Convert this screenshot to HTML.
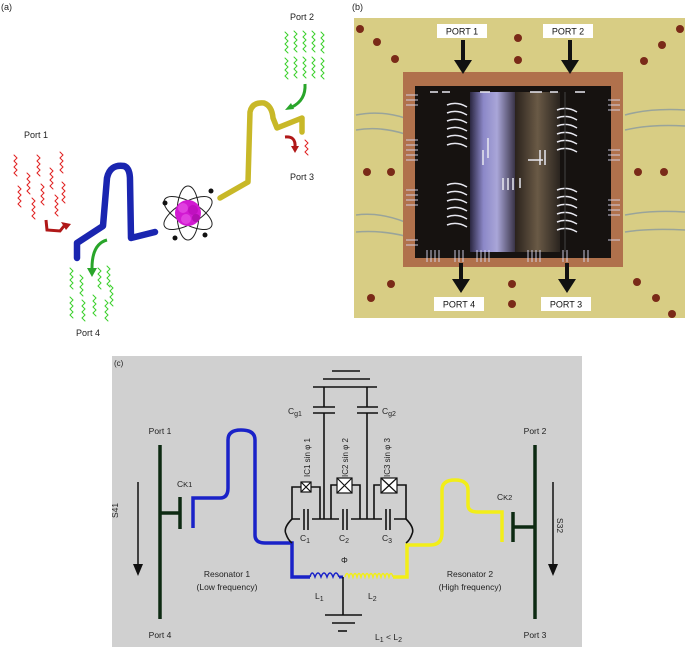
<!DOCTYPE html>
<html><head><meta charset="utf-8"><style>
html,body{margin:0;padding:0;background:#fff;}
svg{display:block;font-family:"Liberation Sans",Arial,sans-serif;}
</style></head><body>
<svg width="685" height="647" viewBox="0 0 685 647" xmlns="http://www.w3.org/2000/svg">
<defs>
<linearGradient id="purp" x1="0" x2="1" y1="0" y2="0">
<stop offset="0" stop-color="#2a2640"/><stop offset="0.3" stop-color="#8c88c8"/><stop offset="0.6" stop-color="#a9a6d8"/><stop offset="1" stop-color="#3a3448"/></linearGradient>
<linearGradient id="brn" x1="0" x2="1" y1="0" y2="0">
<stop offset="0" stop-color="#2a221c"/><stop offset="0.5" stop-color="#6a5a46"/><stop offset="1" stop-color="#2a241f"/></linearGradient>
</defs>
<rect width="685" height="647" fill="#fff"/>

<!-- ===== Panel (a) ===== -->
<text x="1" y="10" font-size="9" fill="#222">(a)</text>
<text x="290" y="20" font-size="9" fill="#222">Port 2</text>
<text x="24" y="138" font-size="9" fill="#222">Port 1</text>
<text x="290" y="180" font-size="9" fill="#222">Port 3</text>
<text x="76" y="336" font-size="9" fill="#222">Port 4</text>
<g fill="none" stroke-width="1" stroke-linecap="round">
<g stroke="#3ad02a">
<path d="M285,32 l3,3 -3,3 3,3 -3,3 3,3 -3,3 3,3"/><path d="M294,31 l3,3 -3,3 3,3 -3,3 3,3 -3,3 3,3"/><path d="M303,31 l3,3 -3,3 3,3 -3,3 3,3 -3,3 3,3"/><path d="M312,31 l3,3 -3,3 3,3 -3,3 3,3 -3,3 3,3"/><path d="M321,32 l3,3 -3,3 3,3 -3,3 3,3 -3,3 3,3"/>
<path d="M285,58 l3,3 -3,3 3,3 -3,3 3,3 -3,3 3,3"/><path d="M294,57 l3,3 -3,3 3,3 -3,3 3,3 -3,3 3,3"/><path d="M303,57 l3,3 -3,3 3,3 -3,3 3,3 -3,3 3,3"/><path d="M312,57 l3,3 -3,3 3,3 -3,3 3,3 -3,3 3,3"/><path d="M321,58 l3,3 -3,3 3,3 -3,3 3,3 -3,3 3,3"/>
<path d="M70,268 l3,3 -3,3 3,3 -3,3 3,3 -3,3 3,3"/><path d="M80,275 l3,3 -3,3 3,3 -3,3 3,3 -3,3 3,3"/><path d="M98,268 l3,3 -3,3 3,3 -3,3 3,3 -3,3 3,3"/><path d="M107,266 l3,3 -3,3 3,3 -3,3 3,3 -3,3 3,3"/>
<path d="M70,297 l3,3 -3,3 3,3 -3,3 3,3 -3,3 3,3"/><path d="M82,300 l3,3 -3,3 3,3 -3,3 3,3 -3,3 3,3"/><path d="M93,295 l3,3 -3,3 3,3 -3,3 3,3 -3,3 3,3"/><path d="M105,300 l3,3 -3,3 3,3 -3,3 3,3 -3,3 3,3"/><path d="M110,285 l3,3 -3,3 3,3 -3,3 3,3 -3,3 3,3"/>
</g>
<g stroke="#e02020">
<path d="M14,155 l3,3 -3,3 3,3 -3,3 3,3 -3,3 3,3"/><path d="M37,155 l3,3 -3,3 3,3 -3,3 3,3 -3,3 3,3"/><path d="M60,152 l3,3 -3,3 3,3 -3,3 3,3 -3,3 3,3"/>
<path d="M27,173 l3,3 -3,3 3,3 -3,3 3,3 -3,3 3,3"/><path d="M50,168 l3,3 -3,3 3,3 -3,3 3,3 -3,3 3,3"/>
<path d="M18,186 l3,3 -3,3 3,3 -3,3 3,3 -3,3 3,3"/><path d="M41,184 l3,3 -3,3 3,3 -3,3 3,3 -3,3 3,3"/><path d="M62,182 l3,3 -3,3 3,3 -3,3 3,3 -3,3 3,3"/>
<path d="M32,198 l3,3 -3,3 3,3 -3,3 3,3 -3,3 3,3"/><path d="M55,195 l3,3 -3,3 3,3 -3,3 3,3 -3,3 3,3"/>
<path d="M305,140 l3,3 -3,3 3,3 -3,3 3,3"/>
</g>
</g>
<path d="M77,258 L77,243 L103,226 L107,178 Q110,164 124,166 Q130,168 130,180 L131,238 L155,232" fill="none" stroke="#1a25b0" stroke-width="6.5" stroke-linejoin="round" stroke-linecap="round"/>
<path d="M220,198 L248,182 L250,112 Q252,102 264,103 Q272,106 273,118 L277,128 L302,118 L302,132" fill="none" stroke="#c8b828" stroke-width="5.5" stroke-linejoin="round" stroke-linecap="round"/>
<path d="M305,84 Q306,100 292,107" fill="none" stroke="#29a52a" stroke-width="3"/><path d="M285,110 l6,-7 3,6z" fill="#29a52a"/>
<path d="M107,240 Q92,244 92,268" fill="none" stroke="#29a52a" stroke-width="3"/><path d="M87,268 l10,0 -5,9z" fill="#29a52a"/>
<path d="M46,220 L47,230 L60,231 L64,226" fill="none" stroke="#b01818" stroke-width="3"/><path d="M61,222 l10,2 -5,6z" fill="#b01818"/>
<path d="M285,137 Q296,136 295,147" fill="none" stroke="#b01818" stroke-width="3"/><path d="M291,146 l8,0 -4,7z" fill="#b01818"/>
<g fill="none" stroke="#222" stroke-width="1">
<ellipse cx="188" cy="213" rx="27" ry="11" transform="rotate(-30 188 213)"/>
<ellipse cx="188" cy="213" rx="27" ry="11" transform="rotate(30 188 213)"/>
<ellipse cx="188" cy="213" rx="11" ry="27"/>
</g>
<circle cx="188" cy="213" r="13" fill="#d21ad2"/>
<circle cx="183" cy="208" r="5" fill="#e040e0"/><circle cx="193" cy="210" r="5" fill="#c010c0"/><circle cx="186" cy="219" r="5" fill="#e040e0"/><circle cx="196" cy="218" r="4" fill="#b010b0"/>
<circle cx="211" cy="191" r="2.5" fill="#111"/><circle cx="165" cy="203" r="2.5" fill="#111"/><circle cx="175" cy="238" r="2.5" fill="#111"/><circle cx="205" cy="235" r="2.5" fill="#111"/>

<!-- ===== Panel (b) ===== -->
<text x="352" y="10" font-size="9" fill="#222">(b)</text>
<rect x="354" y="18" width="331" height="300" fill="#d8cd84"/>
<g stroke="#8a9aa0" stroke-width="1.5" fill="none" opacity="0.8">
<path d="M356,115 Q380,110 405,118"/><path d="M356,130 Q380,126 405,134"/><path d="M356,215 Q380,212 405,222"/><path d="M356,232 Q380,230 405,236"/>
<path d="M625,115 Q650,108 685,110"/><path d="M625,130 Q650,124 685,126"/><path d="M625,215 Q650,210 685,212"/><path d="M625,232 Q650,228 685,230"/>
</g>
<rect x="403" y="72" width="220" height="195" fill="#b0714c"/>
<rect x="415" y="86" width="196" height="172" fill="#161210"/>
<rect x="470" y="92" width="45" height="160" fill="url(#purp)"/>
<rect x="515" y="92" width="45" height="160" fill="url(#brn)"/>
<g stroke="#d8d8f0" stroke-width="1" fill="none" opacity="0.9">
<path d="M406,95 h12 M406,100 h12 M406,105 h12 M406,140 h12 M406,145 h12 M406,150 h12 M406,155 h12 M406,160 h12 M406,190 h12 M406,195 h12 M406,200 h12 M406,205 h12 M406,240 h12 M406,245 h12"/>
<path d="M608,100 h12 M608,105 h12 M608,110 h12 M608,150 h12 M608,155 h12 M608,160 h12 M608,200 h12 M608,205 h12 M608,210 h12 M608,215 h12 M608,240 h12"/>
<path d="M427,250 v12 M431,250 v12 M435,250 v12 M439,250 v12 M455,250 v12 M459,250 v12 M463,250 v12 M477,250 v12 M481,250 v12 M485,250 v12 M489,250 v12 M528,250 v12 M532,250 v12 M536,250 v12 M540,250 v12 M563,250 v12 M567,250 v12 M584,250 v12 M588,250 v12"/>
</g>
<g stroke="#e8e8f0" stroke-width="1.5" fill="none">
<path d="M447,105 q10,-4 20,2 M447,113 q10,-4 20,2 M447,121 q10,-4 20,2 M447,129 q10,-4 20,2 M447,137 q10,-4 20,2 M447,145 q10,-4 20,2"/>
<path d="M447,185 q10,-4 20,2 M447,193 q10,-4 20,2 M447,201 q10,-4 20,2 M447,209 q10,-4 20,2 M447,217 q10,-4 20,2 M447,225 q10,-4 20,2"/>
<path d="M557,110 q10,-4 20,2 M557,118 q10,-4 20,2 M557,126 q10,-4 20,2 M557,134 q10,-4 20,2 M557,142 q10,-4 20,2 M557,150 q10,-4 20,2"/>
<path d="M557,190 q10,-4 20,2 M557,198 q10,-4 20,2 M557,206 q10,-4 20,2 M557,214 q10,-4 20,2 M557,222 q10,-4 20,2 M557,230 q10,-4 20,2"/>
<path d="M503,178 v12 M508,178 v12 M513,178 v12 M520,178 v10 M540,150 v15 M545,150 v15 M488,138 v20 M483,150 v15 M528,160 h15"/>
<path d="M430,92 h8 M442,92 h8 M480,92 h10 M530,92 h12 M550,92 h8 M575,92 h10"/>
</g>
<line x1="565" y1="92" x2="565" y2="252" stroke="#444" stroke-width="1"/>
<g fill="#7a2a18">
<circle cx="360" cy="29" r="4"/><circle cx="377" cy="42" r="4"/><circle cx="395" cy="59" r="4"/><circle cx="518" cy="38" r="4"/><circle cx="518" cy="60" r="4"/><circle cx="662" cy="45" r="4"/><circle cx="644" cy="61" r="4"/><circle cx="680" cy="29" r="4"/><circle cx="367" cy="172" r="4"/><circle cx="391" cy="172" r="4"/><circle cx="638" cy="172" r="4"/><circle cx="664" cy="172" r="4"/><circle cx="391" cy="284" r="4"/><circle cx="371" cy="298" r="4"/><circle cx="512" cy="284" r="4"/><circle cx="512" cy="304" r="4"/><circle cx="637" cy="282" r="4"/><circle cx="656" cy="298" r="4"/><circle cx="672" cy="314" r="4"/>
</g>
<g font-size="9" fill="#111">
<rect x="437" y="24" width="50" height="14" fill="#fff"/><text x="462" y="34.5" text-anchor="middle">PORT 1</text>
<rect x="543" y="24" width="50" height="14" fill="#fff"/><text x="568" y="34.5" text-anchor="middle">PORT 2</text>
<rect x="434" y="297" width="50" height="14" fill="#fff"/><text x="459" y="307.5" text-anchor="middle">PORT 4</text>
<rect x="541" y="297" width="50" height="14" fill="#fff"/><text x="566" y="307.5" text-anchor="middle">PORT 3</text>
</g>
<g fill="#111">
<rect x="461" y="40" width="4" height="22"/><path d="M454,60 h18 l-9,14z"/>
<rect x="568" y="40" width="4" height="22"/><path d="M561,60 h18 l-9,14z"/>
<rect x="459" y="263" width="4" height="18"/><path d="M452,279 h18 l-9,14z"/>
<rect x="565" y="263" width="4" height="18"/><path d="M558,279 h18 l-9,14z"/>
</g>

<!-- ===== Panel (c) ===== -->
<rect x="112" y="356" width="470" height="291" fill="#d0d0d0"/>
<text x="114" y="366" font-size="8" fill="#222">(c)</text>
<g font-size="8.5" fill="#222">
<text x="160" y="434" text-anchor="middle">Port 1</text>
<text x="160" y="638" text-anchor="middle">Port 4</text>
<text x="535" y="434" text-anchor="middle">Port 2</text>
<text x="535" y="638" text-anchor="middle">Port 3</text>
<text x="177" y="487">C<tspan font-size="7.5">K1</tspan></text>
<text x="497" y="500">C<tspan font-size="7.5">K2</tspan></text>
<text x="227" y="577" text-anchor="middle">Resonator 1</text>
<text x="227" y="590" text-anchor="middle">(Low frequency)</text>
<text x="470" y="577" text-anchor="middle">Resonator 2</text>
<text x="470" y="590" text-anchor="middle">(High frequency)</text>
<text x="288" y="414">C<tspan font-size="7" dy="2">g1</tspan></text>
<text x="382" y="414">C<tspan font-size="7" dy="2">g2</tspan></text>
<text x="300" y="541">C<tspan font-size="7" dy="2">1</tspan></text>
<text x="339" y="541">C<tspan font-size="7" dy="2">2</tspan></text>
<text x="382" y="541">C<tspan font-size="7" dy="2">3</tspan></text>
<text x="341" y="563">Φ</text>
<text x="315" y="599">L<tspan font-size="7" dy="2">1</tspan></text>
<text x="368" y="599">L<tspan font-size="7" dy="2">2</tspan></text>
<text x="375" y="640">L<tspan font-size="7" dy="2">1</tspan><tspan dy="-2"> &lt; L</tspan><tspan font-size="7" dy="2">2</tspan></text>
<text transform="translate(310,477) rotate(-90)" font-size="8">IC1 sin φ 1</text>
<text transform="translate(348,477) rotate(-90)" font-size="8">IC2 sin φ 2</text>
<text transform="translate(390,477) rotate(-90)" font-size="8">IC3 sin φ 3</text>
<text transform="translate(118,518) rotate(-90)" font-size="8.5">S41</text>
<text transform="translate(557,518) rotate(90)" font-size="8.5">S32</text>
</g>
<g stroke="#0d2a12" stroke-width="3.5" fill="none">
<line x1="160" y1="445" x2="160" y2="619"/><line x1="535" y1="445" x2="535" y2="619"/>
<line x1="160" y1="513" x2="180" y2="513"/><line x1="180" y1="497" x2="180" y2="529"/>
<line x1="535" y1="527" x2="513" y2="527"/><line x1="513" y1="512" x2="513" y2="542"/>
</g>
<g stroke="#111" stroke-width="1.5">
<line x1="138" y1="482" x2="138" y2="566"/><line x1="553" y1="482" x2="553" y2="566"/>
</g>
<path d="M133,564 h10 l-5,12z M548,564 h10 l-5,12z" fill="#111"/>
<path d="M193,528 L193,498 L220,498 Q228,498 228,488 L228,440 Q228,430 241,430 Q255,430 255,440 L255,535 Q255,543 265,543 L292,543 L292,577 L310,577" fill="none" stroke="#1a22c8" stroke-width="3.5"/>
<path d="M310,577 q2,-8 5,0 q3,-8 6,0 q3,-8 6,0 q3,-8 6,0 q3,-8 6,0" fill="none" stroke="#1a22c8" stroke-width="1.5"/>
<line x1="339" y1="577" x2="343" y2="577" stroke="#1a22c8" stroke-width="3"/>
<path d="M345,577 q2,-7 4,0 q2,-7 4,0 q2,-7 4,0 q2,-7 4,0 q2,-7 4,0 q2,-7 4,0 q2,-7 4,0 q2,-7 4,0 q2,-7 4,0 q2,-7 4,0 q2,-7 4,0 q2,-7 4,0" fill="none" stroke="#f2ee18" stroke-width="1.5"/>
<path d="M393,577 L407,577 L407,545 L430,545 Q442,545 442,533 L442,490 Q442,480 455,480 Q468,480 468,490 L468,505 Q468,512 478,512 L502,512 L502,542" fill="none" stroke="#f2ee18" stroke-width="3.5"/>
<g stroke="#111" stroke-width="1.6" fill="none">
<line x1="332" y1="371" x2="360" y2="371"/><line x1="323" y1="379" x2="370" y2="379"/><line x1="313" y1="387" x2="377" y2="387"/>
<line x1="324" y1="387" x2="324" y2="407"/><line x1="367" y1="387" x2="367" y2="407"/>
<line x1="313" y1="407" x2="335" y2="407"/><line x1="313" y1="413" x2="335" y2="413"/>
<line x1="357" y1="407" x2="378" y2="407"/><line x1="357" y1="413" x2="378" y2="413"/>
<line x1="324" y1="413" x2="324" y2="519"/><line x1="367" y1="413" x2="367" y2="519"/>
<line x1="292" y1="519" x2="406" y2="519"/>
<path d="M292,519 L292,487 L301,487 M311,487 L320,487 L320,519"/>
<path d="M331,519 L331,485 L337,485 M352,485 L360,485 L360,519"/>
<path d="M374,519 L374,485 L380,485 M397,485 L406,485 L406,519"/>
<path d="M292,519 Q283,528 286,534 Q288,540 292,543"/>
<path d="M406,519 Q415,528 412,534 Q410,540 406,543"/>
<line x1="343" y1="577" x2="343" y2="615"/>
<line x1="325" y1="615" x2="362" y2="615"/><line x1="332" y1="623" x2="355" y2="623"/><line x1="338" y1="631" x2="347" y2="631"/>
</g>
<g stroke="#111" stroke-width="1.6">
<rect x="300" y="510" width="12" height="18" fill="#d0d0d0" stroke="none"/>
<line x1="304" y1="509" x2="304" y2="530"/><line x1="308" y1="509" x2="308" y2="530"/>
<rect x="339" y="510" width="12" height="18" fill="#d0d0d0" stroke="none"/>
<line x1="343" y1="509" x2="343" y2="530"/><line x1="347" y1="509" x2="347" y2="530"/>
<rect x="382" y="510" width="12" height="18" fill="#d0d0d0" stroke="none"/>
<line x1="386" y1="509" x2="386" y2="530"/><line x1="390" y1="509" x2="390" y2="530"/>
</g>
<g stroke="#111" stroke-width="1.2" fill="#fff">
<rect x="301" y="482" width="10" height="10"/><path d="M301,482 l10,10 M311,482 l-10,10"/>
<rect x="337" y="478" width="15" height="15"/><path d="M337,478 l15,15 M352,478 l-15,15"/>
<rect x="381" y="478" width="16" height="15"/><path d="M381,478 l16,15 M397,478 l-16,15"/>
</g>
</svg>
</body></html>
